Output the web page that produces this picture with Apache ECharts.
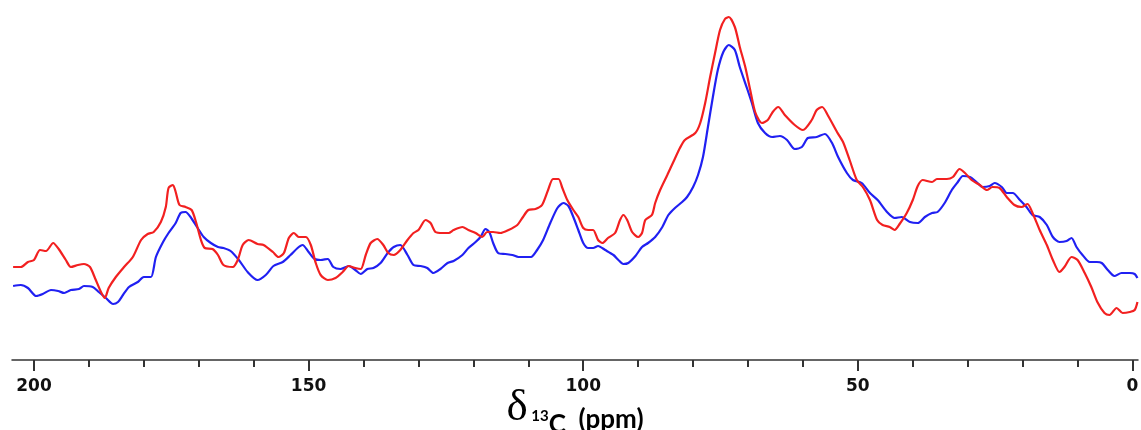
<!DOCTYPE html>
<html>
<head>
<meta charset="utf-8">
<title>13C CP/MAS NMR spectra</title>
<script src="https://cdn.jsdelivr.net/npm/echarts@6/dist/echarts.min.js"></script>
<style>
  html, body { margin: 0; padding: 0; background: #ffffff; }
  #chart { width: 1141px; height: 430px; }
</style>
</head>
<body>
<div id="chart"></div>
<script>
// Chemical shift axis (ppm) and tick positions
const majorTicks = [0, 50, 100, 150, 200];
const minorTicks = [10, 20, 30, 40, 60, 70, 80, 90, 110, 120, 130, 140, 160, 170, 180, 190];

// Red spectrum: chemical shift (ppm) and intensity (a.u.)
const redPpm = [203.8, 202.4, 201.1, 200.0, 198.9, 197.8, 196.5, 195.5, 194.2, 193.3, 192.0, 190.9, 189.8, 188.9, 187.8, 187.1, 186.4, 185.1, 183.6, 182.0,
  180.5, 179.3, 178.2, 176.9, 176.0, 175.5, 174.7, 174.2, 173.5, 172.4, 171.3, 170.5, 169.6, 168.9, 167.5, 166.5, 165.5, 163.8, 162.9, 162.0,
  160.9, 159.3, 158.2, 156.5, 155.5, 154.5, 153.6, 152.7, 151.8, 150.5, 149.6, 148.7, 147.8, 146.5, 145.1, 143.8, 142.7, 141.5, 140.5, 139.6,
  138.7, 137.5, 136.4, 135.5, 134.5, 133.3, 132.0, 130.9, 130.0, 128.7, 127.8, 126.9, 125.6, 124.5, 123.6, 122.0, 120.9, 119.6, 118.4, 117.5,
  116.4, 115.1, 113.6, 112.0, 111.1, 110.0, 108.7, 107.5, 106.4, 105.5, 104.5, 103.8, 102.9, 101.8, 100.9, 100.0, 99.1, 98.2, 97.3, 96.5,
  95.5, 94.2, 93.3, 92.7, 92.0, 91.1, 90.0, 89.3, 88.7, 87.5, 86.9, 86.0, 84.7, 83.6, 82.4, 81.5, 79.6, 78.7, 77.8, 76.9,
  76.0, 75.1, 74.2, 73.5, 72.4, 71.5, 70.5, 69.6, 68.7, 67.5, 66.4, 65.5, 64.5, 63.3, 61.5, 60.0, 58.4, 57.5, 56.5, 55.5,
  53.8, 52.7, 51.5, 50.2, 49.1, 47.8, 46.5, 45.5, 44.2, 43.3, 42.4, 41.1, 40.0, 39.1, 38.2, 36.5, 35.6, 33.8, 32.7, 31.5,
  30.5, 29.3, 27.8, 26.5, 25.5, 24.2, 22.9, 21.5, 20.2, 19.1, 18.2, 16.9, 15.6, 14.5, 13.3, 12.4, 11.1, 10.0, 8.7, 7.5,
  6.4, 5.1, 4.2, 2.9, 1.8, 0.5, -0.4, -0.9];
const redIntensity = [93, 93, 98, 100, 110, 109, 117, 111, 100, 93, 95, 96, 93, 82, 68, 62, 72, 83, 93, 103,
  120, 126, 128, 138, 153, 172, 175, 168, 155, 153, 150, 138, 120, 112, 111, 105, 95, 93, 100, 115,
  120, 116, 115, 108, 103, 107, 122, 127, 123, 123, 115, 97, 85, 80, 82, 88, 94, 92, 91, 105,
  117, 121, 115, 107, 105, 110, 120, 127, 130, 140, 137, 128, 127, 127, 130, 133, 130, 127, 123, 128,
  128, 127, 130, 135, 142, 150, 151, 155, 170, 181, 181, 172, 160, 150, 143, 132, 130, 130, 120, 117,
  122, 127, 140, 145, 140, 128, 123, 127, 140, 145, 157, 170, 185, 198, 212, 220, 227, 237, 257, 283,
  307, 330, 341, 343, 333, 313, 293, 270, 248, 237, 240, 248, 253, 245, 235, 230, 240, 250, 253, 245,
  228, 218, 200, 180, 173, 160, 140, 135, 133, 130, 136, 147, 160, 174, 180, 178, 181, 181, 183, 191,
  187, 180, 175, 170, 173, 172, 163, 155, 153, 156, 147, 130, 115, 100, 88, 93, 103, 100, 87, 73,
  58, 47, 45, 52, 47, 48, 50, 58];

// Blue spectrum: chemical shift (ppm) and intensity (a.u.)
const bluePpm = [203.8, 202.4, 201.1, 199.6, 198.4, 196.9, 195.6, 194.5, 193.3, 191.8, 190.9, 189.3, 188.2, 186.9, 185.6, 184.7, 183.8, 182.7, 181.1, 180.0,
  178.7, 177.8, 176.5, 175.5, 174.2, 173.3, 172.4, 171.5, 170.2, 169.1, 167.8, 166.5, 165.5, 164.2, 162.7, 161.1, 159.3, 157.8, 156.4, 154.7,
  153.3, 152.0, 151.1, 150.0, 148.9, 147.8, 146.5, 145.5, 144.2, 142.7, 141.5, 140.5, 139.3, 138.2, 136.9, 135.6, 134.5, 133.3, 132.0, 130.9,
  129.6, 128.4, 127.3, 126.0, 124.7, 123.6, 122.0, 120.9, 119.6, 118.7, 117.8, 117.1, 116.4, 115.5, 114.2, 112.9, 111.8, 110.5, 109.5, 108.4,
  107.3, 106.0, 104.7, 103.6, 102.7, 101.8, 100.9, 100.0, 99.1, 98.2, 97.3, 96.0, 94.5, 93.6, 92.7, 91.8, 90.5, 89.3, 88.2, 86.9,
  85.6, 84.5, 83.3, 82.0, 81.1, 80.0, 79.1, 78.2, 77.3, 76.4, 75.5, 74.5, 73.5, 72.4, 71.5, 70.2, 69.3, 68.2, 66.9, 65.6,
  64.2, 62.9, 61.5, 60.2, 59.1, 57.5, 56.0, 54.7, 53.6, 52.0, 50.9, 49.3, 47.8, 46.4, 44.7, 43.3, 42.0, 40.5, 39.1, 37.8,
  36.5, 35.5, 34.2, 32.9, 31.8, 30.9, 29.6, 28.4, 27.3, 26.0, 25.1, 23.8, 22.9, 21.8, 20.5, 19.3, 18.2, 16.9, 15.6, 14.5,
  13.3, 12.0, 11.1, 10.2, 9.1, 7.8, 6.5, 5.6, 4.5, 3.3, 2.0, 0.5, -0.4, -0.9];
const blueIntensity = [74, 75, 72, 64, 66, 70, 69, 67, 70, 71, 74, 73, 68, 62, 56, 58, 65, 73, 78, 83,
  83, 103, 118, 127, 137, 147, 148, 143, 132, 123, 117, 113, 112, 109, 100, 88, 80, 85, 94, 98,
  105, 112, 115, 108, 101, 100, 101, 93, 91, 94, 90, 86, 91, 92, 97, 107, 113, 115, 105, 95,
  94, 92, 87, 91, 97, 99, 105, 112, 118, 123, 131, 128, 117, 107, 106, 105, 103, 103, 103, 110,
  120, 137, 152, 157, 154, 143, 130, 117, 112, 112, 114, 110, 105, 100, 96, 97, 104, 113, 117, 123,
  133, 145, 152, 158, 163, 173, 185, 203, 233, 263, 290, 308, 315, 310, 293, 272, 257, 237, 227, 223,
  224, 220, 211, 213, 222, 223, 226, 217, 203, 187, 180, 177, 167, 160, 148, 142, 143, 138, 137, 143,
  147, 148, 157, 170, 178, 184, 183, 178, 173, 174, 177, 173, 167, 167, 160, 153, 145, 143, 135, 123,
  118, 119, 122, 113, 105, 98, 98, 97, 90, 84, 87, 87, 86, 82];

function pairs(xs, ys) {
  return xs.map((x, i) => [x, ys[i]]);
}

const chart = echarts.init(document.getElementById('chart'), null, { renderer: 'canvas' });

const axisColor = '#333333';

chart.setOption({
  animation: false,
  backgroundColor: '#ffffff',
  grid: { left: 12, right: 3, top: 0, bottom: 70, outerBoundsMode: 'none', containLabel: false },
  xAxis: [
    {
      type: 'value',
      min: -1,
      max: 204,
      inverse: true,
      splitLine: { show: false },
      axisLine: { show: true, onZero: false, lineStyle: { color: axisColor, width: 1.5 } },
      axisTick: {
        show: true, inside: false, length: 11,
        customValues: majorTicks,
        lineStyle: { color: axisColor, width: 2 }
      },
      axisLabel: {
        show: true,
        customValues: majorTicks,
        margin: 18,
        fontFamily: 'DejaVu Sans',
        fontWeight: 'bold',
        fontSize: 17,
        color: '#111111'
      },
      name: '{d|δ}{s| 13}{c|C}{p|  (ppm)}',
      nameLocation: 'middle',
      nameMoveOverlap: false,
      nameGap: 25,
      nameTextStyle: {
        rich: {
          d: { fontFamily: 'Liberation Serif', fontSize: 45, color: '#000000', lineHeight: 46, verticalAlign: 'bottom' },
          s: { fontFamily: 'Lato', fontWeight: 'bold', fontSize: 15, color: '#000000', padding: [0, 0, 7, 0], verticalAlign: 'bottom' },
          c: { fontFamily: 'Lato', fontWeight: 'bold', fontSize: 26, color: '#000000', padding: [0, 0, -7, 0], verticalAlign: 'bottom' },
          p: { fontFamily: 'Lato', fontWeight: 'bold', fontSize: 26, color: '#000000', padding: [0, 0, -2, 0], verticalAlign: 'bottom' }
        }
      }
    },
    {
      type: 'value',
      min: -1,
      max: 204,
      inverse: true,
      position: 'bottom',
      splitLine: { show: false },
      axisLine: { show: false },
      axisLabel: { show: false },
      axisTick: {
        show: true, inside: false, length: 7,
        customValues: minorTicks,
        lineStyle: { color: axisColor, width: 2 }
      }
    }
  ],
  yAxis: {
    type: 'value',
    min: 0,
    max: 360,
    show: false
  },
  series: [
    {
      name: 'blue',
      type: 'line',
      data: pairs(bluePpm, blueIntensity),
      showSymbol: false,
      smooth: 0.25,
      lineStyle: { color: '#2020f2', width: 2.2 },
      z: 2
    },
    {
      name: 'red',
      type: 'line',
      data: pairs(redPpm, redIntensity),
      showSymbol: false,
      smooth: 0.25,
      lineStyle: { color: '#f22020', width: 2.2 },
      z: 3
    }
  ]
});
</script>
</body>
</html>
